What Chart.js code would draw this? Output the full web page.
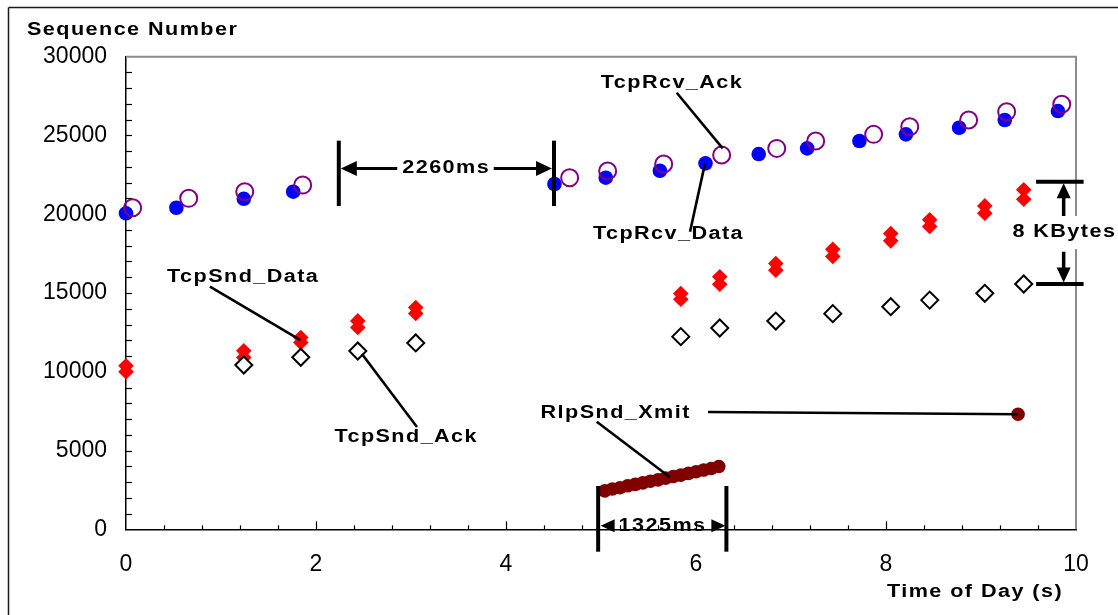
<!DOCTYPE html>
<html>
<head>
<meta charset="utf-8">
<script src="https://cdn.jsdelivr.net/npm/chart.js@4/dist/chart.umd.min.js"></script>
<style>
  html, body { margin: 0; padding: 0; background: #ffffff; }
  canvas { display: block; }
</style>
</head>
<body>
<canvas id="seqChart" width="1118" height="615"></canvas>
<script>
// Axis ticks
const xTickValues = [0, 2, 4, 6, 8, 10];
const yTickValues = [0, 5000, 10000, 15000, 20000, 25000, 30000];

// TcpRcv_Data (receiver data arrivals)
const rcvDataX = [0.00, 0.53, 1.24, 1.76, 4.51, 5.05, 5.62, 6.10, 6.66, 7.17, 7.72, 8.21, 8.77, 9.25, 9.81];
const rcvDataY = [20060, 20410, 20980, 21430, 21920, 22320, 22760, 23230, 23820, 24180, 24650, 25070, 25490, 25980, 26550];

// TcpRcv_Ack (receiver acks)
const rcvAckX = [0.07, 0.66, 1.25, 1.86, 4.67, 5.07, 5.66, 6.27, 6.85, 7.26, 7.87, 8.25, 8.87, 9.27, 9.85];
const rcvAckY = [20410, 21010, 21430, 21850, 22320, 22740, 23190, 23760, 24180, 24650, 25070, 25550, 25980, 26510, 26980];

// TcpSnd_Data (sender data, two segments per burst)
const sndDataX = [0.00, 0.00, 1.24, 1.24, 1.84, 1.84, 2.44, 2.44, 3.05, 3.05,
                  5.84, 5.84, 6.25, 6.25, 6.84, 6.84, 7.44, 7.44, 8.05, 8.05,
                  8.46, 8.46, 9.04, 9.04, 9.45, 9.45];
const sndDataY = [10380, 10000, 11330, 10900, 12170, 11860, 13230, 12810, 14080, 13700,
                  14970, 14600, 16030, 15560, 16870, 16450, 17780, 17320, 18780, 18310,
                  19650, 19220, 20530, 20060, 21550, 20950];

// TcpSnd_Ack (sender ack arrivals)
const sndAckX = [1.24, 1.84, 2.44, 3.05, 5.84, 6.25, 6.84, 7.44, 8.05, 8.46, 9.04, 9.45];
const sndAckY = [10430, 10920, 11320, 11830, 12230, 12780, 13220, 13690, 14130, 14550, 14980, 15570];

// RlpSnd_Xmit (radio link frame transmissions)
const rlpX = [5.04, 5.12, 5.20, 5.28, 5.36, 5.44, 5.52, 5.60, 5.68, 5.76, 5.84, 5.92, 6.00, 6.08, 6.16, 6.24, 9.39];
const rlpY = [2440, 2560, 2640, 2760, 2850, 2950, 3050, 3140, 3250, 3350, 3440, 3550, 3650, 3760, 3860, 3990, 7300];

const toPoints = (xs, ys) => xs.map((v, i) => ({ x: v, y: ys[i] }));

const FONT = '"Liberation Sans", Arial, Helvetica, sans-serif';
const BOLD = 'bold 18px ' + FONT;
const SPACING = 1.2;   // extra tracking between letters
const STRETCH = 1.2;   // horizontal widening of the bold labels

function spacedText(ctx, text, x, y, align) {
  ctx.save();
  ctx.font = BOLD;
  ctx.letterSpacing = SPACING + 'px';
  ctx.textBaseline = 'middle';
  ctx.textAlign = 'left';
  const w = (ctx.measureText(text).width - SPACING) * STRETCH;
  let left = x;
  if (align === 'center') left = x - w / 2;
  else if (align === 'right') left = x - w;
  ctx.translate(left, y);
  ctx.scale(STRETCH, 1);
  ctx.fillText(text, 0, 0);
  ctx.restore();
  return { left, right: left + w };
}

function line(ctx, x1, y1, x2, y2, w) {
  ctx.lineWidth = w;
  ctx.beginPath();
  ctx.moveTo(x1, y1);
  ctx.lineTo(x2, y2);
  ctx.stroke();
}

// filled arrowhead, tip at (tx,ty), dir: 'left' | 'right' | 'up' | 'down'
function arrowHead(ctx, tx, ty, dir, len, half) {
  ctx.beginPath();
  ctx.moveTo(tx, ty);
  if (dir === 'left') { ctx.lineTo(tx + len, ty - half); ctx.lineTo(tx + len, ty + half); }
  if (dir === 'right') { ctx.lineTo(tx - len, ty - half); ctx.lineTo(tx - len, ty + half); }
  if (dir === 'up') { ctx.lineTo(tx - half, ty + len); ctx.lineTo(tx + half, ty + len); }
  if (dir === 'down') { ctx.lineTo(tx - half, ty - len); ctx.lineTo(tx + half, ty - len); }
  ctx.closePath();
  ctx.fill();
}

// Callout labels: text centre and leader line ends, in data units
const callouts = [
  { text: 'TcpSnd_Data', x: 1.226, y: 16020, from: [0.884, 15400], to: [1.837, 12010] },
  { text: 'TcpSnd_Ack',  x: 2.942, y: 5860,  from: [2.484, 11130], to: [3.063, 6490] },
  { text: 'TcpRcv_Ack',  x: 5.740, y: 28330, from: [5.797, 27710], to: [6.281, 24180] },
  { text: 'TcpRcv_Data', x: 5.703, y: 18740, from: [5.937, 18890], to: [6.095, 23230] },
  { text: 'RlpSnd_Xmit', x: 5.147, y: 7380,  from: [4.955, 6830],  to: [5.726, 3300] }
];
const rlpPointer = { from: [6.126, 7445], to: [9.39, 7300] };

const frame = {
  id: 'frame',
  beforeDatasetsDraw(chart) {
    const { ctx, chartArea: a, scales: { x, y } } = chart;
    ctx.save();
    // outer chart border
    ctx.strokeStyle = '#1a1a1a';
    line(ctx, 8.5, 7.5, 1118, 7.5, 1.5);
    line(ctx, 8.5, 7.5, 8.5, 615, 1.5);
    // plot area top / right edges
    ctx.strokeStyle = '#8c8c8c';
    ctx.lineWidth = 2;
    ctx.beginPath();
    ctx.moveTo(a.left, a.top);
    ctx.lineTo(a.right, a.top);
    ctx.lineTo(a.right, a.bottom);
    ctx.stroke();
    // inward tick marks
    ctx.strokeStyle = '#000';
    for (let v = 1000; v < 30000; v += 1000) {
      const py = Math.round(y.getPixelForValue(v)) + 0.5;
      line(ctx, a.left, py, a.left + 6, py, 1.2);
    }
    for (let i = 1; i < 25; i++) {
      const px = Math.round(x.getPixelForValue(i * 0.4)) + 0.5;
      line(ctx, px, a.bottom, px, a.bottom - (i % 5 === 0 ? 8 : 4), 1.2);
    }
    ctx.restore();
  }
};

const notes = {
  id: 'notes',
  afterDraw(chart) {
    const { ctx, scales: { x, y } } = chart;
    const X = v => x.getPixelForValue(v);
    const Y = v => y.getPixelForValue(v);
    ctx.save();
    ctx.fillStyle = '#000';
    ctx.strokeStyle = '#000';
    ctx.lineCap = 'butt';

    // axis titles
    spacedText(ctx, 'Sequence Number', 27, 30, 'left');
    spacedText(ctx, 'Time of Day (s)', 887, 592, 'left');

    // callouts
    callouts.forEach(c => {
      line(ctx, X(c.from[0]), Y(c.from[1]), X(c.to[0]), Y(c.to[1]), 2.6);
      spacedText(ctx, c.text, X(c.x), Y(c.y), 'center');
    });
    line(ctx, X(rlpPointer.from[0]), Y(rlpPointer.from[1]), X(rlpPointer.to[0]), Y(rlpPointer.to[1]), 2.6);

    // 2260ms gap
    const gL = X(2.24), gR = X(4.505), gy = Y(22910);
    line(ctx, gL, Y(24670), gL, Y(20520), 4);
    line(ctx, gR, Y(24670), gR, Y(20520), 4);
    const t1 = spacedText(ctx, '2260ms', X(3.363), gy, 'center');
    line(ctx, gL + 14, gy, t1.left - 5, gy, 3);
    line(ctx, t1.right + 5, gy, gR - 14, gy, 3);
    arrowHead(ctx, gL + 2, gy, 'left', 16, 7.5);
    arrowHead(ctx, gR - 2, gy, 'right', 16, 7.5);

    // 1325ms burst
    const bL = X(4.97), bR = X(6.32), by = Y(228);
    line(ctx, bL, Y(2750), bL, Y(-1420), 4);
    line(ctx, bR, Y(2750), bR, Y(-1420), 4);
    spacedText(ctx, '1325ms', X(5.64), by, 'center');
    arrowHead(ctx, bL + 2.5, by, 'left', 14, 6.5);
    arrowHead(ctx, bR - 1, by, 'right', 14, 6.5);

    // 8 KBytes window
    const kL = X(9.58), kR = X(10.08), kx = X(9.87);
    const kTop = Y(22060), kBot = Y(15570), ky = Y(18870);
    line(ctx, kL, kTop, kR, kTop, 4);
    line(ctx, kL, kBot, kR, kBot, 4);
    line(ctx, kx, kTop + 12, kx, Y(19850), 3.5);
    line(ctx, kx, Y(17620), kx, kBot - 12, 3.5);
    arrowHead(ctx, kx, kTop + 1.5, 'up', 15, 7);
    arrowHead(ctx, kx, kBot - 1.5, 'down', 15, 7);
    ctx.fillStyle = '#fff';
    ctx.fillRect(1008, ky - 16, 110, 33);
    ctx.fillStyle = '#000';
    spacedText(ctx, '8 KBytes', kx, ky, 'center');

    ctx.restore();
  }
};

new Chart(document.getElementById('seqChart'), {
  type: 'scatter',
  data: {
    datasets: [
      {
        label: 'TcpRcv_Ack', data: toPoints(rcvAckX, rcvAckY), order: 1, clip: false,
        pointStyle: 'circle', pointRadius: 8.5, pointBorderWidth: 2,
        pointBorderColor: '#800080', pointBackgroundColor: 'rgba(0,0,0,0)'
      },
      {
        label: 'TcpRcv_Data', data: toPoints(rcvDataX, rcvDataY), order: 2, clip: false,
        pointStyle: 'circle', pointRadius: 7.3, pointBorderWidth: 0,
        pointBackgroundColor: '#0000ff', pointBorderColor: '#0000ff'
      },
      {
        label: 'TcpSnd_Ack', data: toPoints(sndAckX, sndAckY), order: 3, clip: false,
        pointStyle: 'rectRot', pointRadius: 8.5, pointBorderWidth: 2,
        pointBorderColor: '#000000', pointBackgroundColor: '#ffffff'
      },
      {
        label: 'TcpSnd_Data', data: toPoints(sndDataX, sndDataY), order: 4, clip: false,
        pointStyle: 'rectRot', pointRadius: 7.8, pointBorderWidth: 0,
        pointBackgroundColor: '#ff0000', pointBorderColor: '#ff0000'
      },
      {
        label: 'RlpSnd_Xmit', data: toPoints(rlpX, rlpY), order: 5, clip: false,
        pointStyle: 'circle', pointRadius: 6.8, pointBorderWidth: 0,
        pointBackgroundColor: '#800000', pointBorderColor: '#800000'
      }
    ]
  },
  options: {
    responsive: false,
    animation: false,
    events: [],
    layout: { padding: { top: 56.7, right: 42, bottom: 0, left: 0 } },
    plugins: { legend: { display: false }, tooltip: { enabled: false } },
    scales: {
      x: {
        type: 'linear', min: 0, max: 10,
        afterBuildTicks: s => { s.ticks = xTickValues.map(v => ({ value: v })); },
        afterFit: s => { s.height = 615 - 529.3; },
        grid: { display: false, drawTicks: false },
        border: { display: true, color: '#000', width: 1.5 },
        ticks: { padding: 22, color: '#000', font: { family: FONT, size: 23 }, maxRotation: 0,
                 callback: v => String(v) }
      },
      y: {
        type: 'linear', min: 0, max: 30000,
        afterBuildTicks: s => { s.ticks = yTickValues.map(v => ({ value: v })); },
        afterFit: s => { s.width = 126; },
        grid: { display: false, drawTicks: false },
        border: { display: true, color: '#000', width: 1.5 },
        ticks: { padding: 19, color: '#000', font: { family: FONT, size: 23 },
                 callback: v => String(v) }
      }
    }
  },
  plugins: [frame, notes]
});
</script>
</body>
</html>
